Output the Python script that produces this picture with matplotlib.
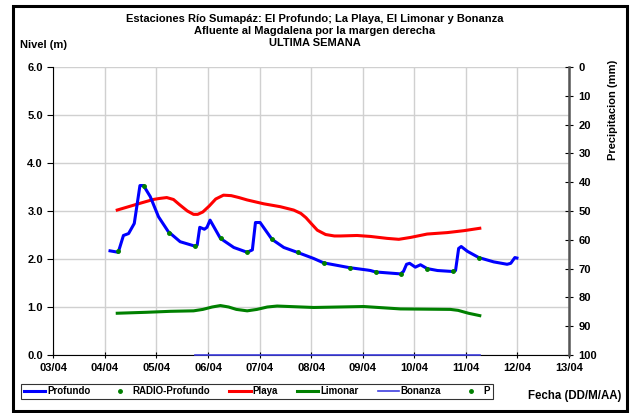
import matplotlib
matplotlib.use("Agg")
import matplotlib.pyplot as plt
from matplotlib.lines import Line2D
from matplotlib.patches import Rectangle

plt.rcParams['font.family'] = ['Liberation Sans', 'DejaVu Sans']
plt.rcParams['font.weight'] = 'bold'

# ---- data (x = day of April, fractional) ----
tick_days = [3, 4, 5, 6, 7, 8, 9, 10, 11, 12, 13]
tick_labels = ["03/04", "04/04", "05/04", "06/04", "07/04", "08/04",
               "09/04", "10/04", "11/04", "12/04", "13/04"]

prof_x = [4.10, 4.26, 4.36, 4.46, 4.57, 4.68, 4.75, 4.88, 5.04, 5.23, 5.46, 5.74,
          5.79, 5.84, 5.93, 5.98, 6.04, 6.24, 6.50, 6.76, 6.86, 6.92, 7.01, 7.24,
          7.47, 7.73, 8.05, 8.24, 8.74, 9.09, 9.15, 9.25, 9.73, 9.79, 9.85, 9.91,
          10.02, 10.12, 10.25, 10.45, 10.74, 10.80, 10.86, 10.91, 11.03, 11.25,
          11.54, 11.80, 11.87, 11.95, 11.99]
prof_y = [2.17, 2.14, 2.49, 2.53, 2.74, 3.53, 3.53, 3.30, 2.88, 2.57, 2.36, 2.27,
          2.29, 2.66, 2.62, 2.66, 2.81, 2.43, 2.24, 2.14, 2.19, 2.76, 2.76, 2.41,
          2.24, 2.14, 2.01, 1.92, 1.82, 1.77, 1.76, 1.73, 1.69, 1.74, 1.89, 1.91,
          1.83, 1.88, 1.80, 1.76, 1.74, 1.76, 2.22, 2.26, 2.16, 2.03,
          1.94, 1.89, 1.91, 2.03, 2.02]

radio_x = [4.25, 4.75, 5.25, 5.75, 6.25, 6.75, 7.25, 7.75, 8.25, 8.75,
           9.25, 9.75, 10.25, 10.75, 11.25]
radio_y = [2.17, 3.53, 2.55, 2.27, 2.43, 2.14, 2.41, 2.14, 1.92, 1.82,
           1.73, 1.69, 1.80, 1.75, 2.03]

playa_x = [4.24, 4.68, 4.94, 5.05, 5.20, 5.33, 5.45, 5.60, 5.72, 5.80, 5.90,
           6.02, 6.15, 6.30, 6.45, 6.60, 6.76, 7.08, 7.40, 7.66, 7.80, 7.90,
           8.00, 8.12, 8.28, 8.45, 8.57, 8.89, 9.15, 9.47, 9.70, 9.93, 10.25,
           10.64, 10.96, 11.27]
playa_y = [3.02, 3.16, 3.24, 3.26, 3.28, 3.24, 3.13, 3.00, 2.93, 2.93, 2.98,
           3.10, 3.25, 3.33, 3.32, 3.28, 3.23, 3.15, 3.09, 3.02, 2.95, 2.86,
           2.74, 2.60, 2.51, 2.48, 2.48, 2.49, 2.47, 2.43, 2.41, 2.45, 2.52,
           2.55, 2.59, 2.64]

limonar_x = [4.24, 4.81, 5.27, 5.72, 5.90, 6.08, 6.24, 6.40, 6.55, 6.76, 6.95,
             7.15, 7.34, 8.05, 9.02, 9.73, 10.70, 10.85, 11.05, 11.27]
limonar_y = [0.87, 0.89, 0.91, 0.92, 0.95, 1.00, 1.03, 1.00, 0.95, 0.92, 0.95,
             1.00, 1.02, 0.99, 1.01, 0.96, 0.95, 0.93, 0.87, 0.82]

bonanza_x = [5.75, 11.27]
bonanza_y = [0.0, 0.0]

# ---- figure ----
fig = plt.figure(figsize=(6.30, 4.13), dpi=100)
ax = fig.add_axes([53.3/630, 1-355/413, (569-53.3)/630, (355-67)/413])

ax.plot(prof_x, prof_y, color='#0000ff', lw=2.2, zorder=4, solid_joinstyle='round')
ax.plot(radio_x, radio_y, 'o', color='#008000', ms=2.5, zorder=5)
ax.plot(playa_x, playa_y, color='#ff0000', lw=2.2, zorder=3, solid_joinstyle='round')
ax.plot(limonar_x, limonar_y, color='#008000', lw=2.2, zorder=3, solid_joinstyle='round')
ax.plot(bonanza_x, bonanza_y, color='#4040e0', lw=1.2, zorder=6, clip_on=False)

ax.set_xlim(3, 13)
ax.set_ylim(0, 6)
ax.set_xticks(tick_days)
ax.set_xticklabels(tick_labels)
ax.set_yticks([0, 1, 2, 3, 4, 5, 6])
ax.set_yticklabels(["%.1f" % v for v in range(7)])
ax.grid(True, color='#d0d0d0', lw=1.0)
ax.set_axisbelow(True)
ax.tick_params(axis='both', labelsize=8, length=4, width=0.8, colors='black')
ax.tick_params(axis='x', direction='inout', pad=4)
for s in ['top', 'right']:
    ax.spines[s].set_visible(False)
ax.spines['left'].set_linewidth(0.8)
ax.spines['bottom'].set_linewidth(0.8)
for lab in ax.get_xticklabels() + ax.get_yticklabels():
    lab.set_fontweight('bold')

ax2 = ax.twinx()
ax2.set_ylim(100, 0)
ax2.set_yticks(range(0, 101, 10))
ax2.tick_params(axis='y', labelsize=8, direction='inout', length=6, width=0.8, pad=4)
for s in ['top', 'left', 'bottom']:
    ax2.spines[s].set_visible(False)
ax2.spines['right'].set_linewidth(1.8)
ax2.spines['right'].set_color('#555555')
for lab in ax2.get_yticklabels():
    lab.set_fontweight('bold')

# titles
fig.text(0.5, 1-19/413, "Estaciones Río Sumapáz: El Profundo; La Playa, El Limonar y Bonanza",
         ha='center', va='center', fontsize=8, fontweight='bold')
fig.text(0.5, 1-31/413, "Afluente al Magdalena por la margen derecha",
         ha='center', va='center', fontsize=8, fontweight='bold')
fig.text(0.5, 1-43/413, "ULTIMA SEMANA",
         ha='center', va='center', fontsize=8, fontweight='bold')
fig.text(20/630, 1-45/413, "Nivel (m)", ha='left', va='center', fontsize=8, fontweight='bold')
fig.text(613/630, 1-110/413, "Precipitacion (mm)", ha='center', va='center',
         rotation=90, fontsize=8, fontweight='bold')
fig.text(621/630, 1-396/413, "Fecha (DD/M/AA)", ha='right', va='center',
         fontsize=8.3, fontweight='bold')

# legend
handles = [
    Line2D([], [], color='#0000ff', lw=2.2),
    Line2D([], [], ls='none', marker='o', color='#008000', ms=2.5),
    Line2D([], [], color='#ff0000', lw=2.2),
    Line2D([], [], color='#008000', lw=2.2),
    Line2D([], [], color='#4040e0', lw=1.2),
    Line2D([], [], ls='none', marker='o', color='#008000', ms=2.5),
]
labels = ["Profundo", "RADIO-Profundo", "Playa", "Limonar", "Bonanza", "P"]
leg = fig.legend(handles, labels, ncol=6, loc='center',
                 bbox_to_anchor=(257/630, 1-391.5/413),
                 prop={'size': 7, 'weight': 'bold'}, frameon=True, fancybox=False,
                 edgecolor='black', handlelength=2.2, handletextpad=0.2,
                 columnspacing=1.95, borderpad=0.3)
leg.get_frame().set_linewidth(0.8)

# outer border
fig.patches.append(Rectangle((13/630, 1-411/413), 614/630, 405/413, transform=fig.transFigure,
                             fill=False, edgecolor='black', lw=2.2))

fig.savefig("out.png", dpi=100)
